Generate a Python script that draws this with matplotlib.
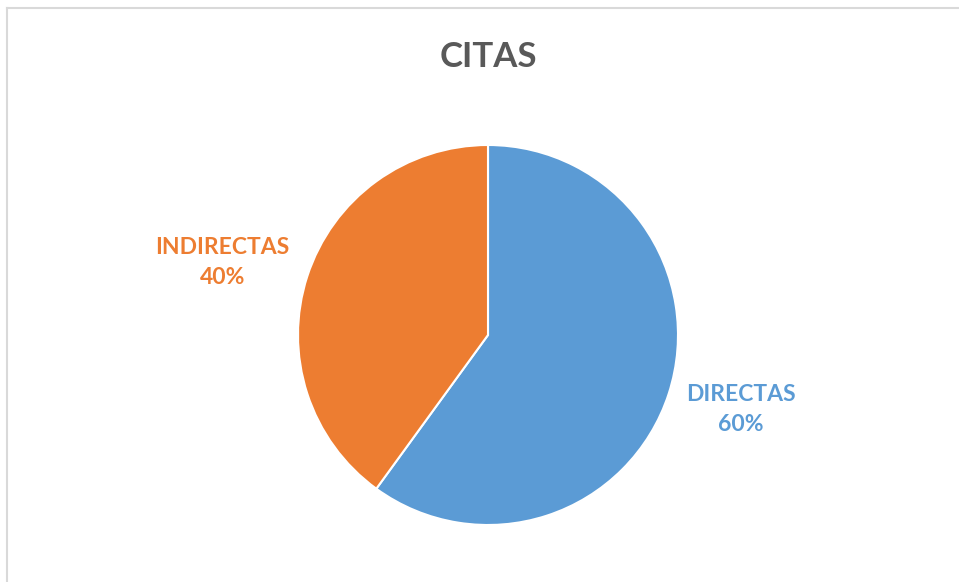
import matplotlib
matplotlib.use("Agg")
import matplotlib.pyplot as plt
from matplotlib.lines import Line2D
from matplotlib.transforms import offset_copy

# Chart data
categories = ["DIRECTAS", "INDIRECTAS"]
values = [60, 40]
colors = ["#5B9BD5", "#ED7D31"]
title = "CITAS"

W, H, DPI = 959, 582, 100
fig = plt.figure(figsize=(W / DPI, H / DPI), dpi=DPI)
fig.patch.set_facecolor("white")

# pie placement in pixels (center and radius)
cx, cy, r = 488, 335, 190
ax = fig.add_axes([(cx - r) / W, (H - cy - r) / H, 2 * r / W, 2 * r / H])

labels = [f"{c}\n{v}%" for c, v in zip(categories, values)]
wedges, texts = ax.pie(
    values,
    labels=labels,
    colors=colors,
    startangle=90,
    counterclock=False,
    labeldistance=1.42,
    wedgeprops=dict(edgecolor="white", linewidth=1.5),
    textprops=dict(fontsize=16.5, fontweight="bold", family="Lato", linespacing=1.5),
)
# small nudges (in pixels) to match the original label placement
nudges = [(-4, 9), (-9, -11)]
for t, col, (dx, dy) in zip(texts, colors, nudges):
    t.set_color(col)
    t.set_ha("center")
    t.set_va("center")
    t.set_transform(offset_copy(ax.transData, fig=fig, x=dx, y=dy, units="dots"))
ax.set_xlim(-1, 1)
ax.set_ylim(-1, 1)
ax.set_aspect("equal")

fig.text(cx / W, 1 - 57 / H, title, ha="center", va="center",
         fontsize=25, fontweight="bold", family="Lato", color="#595959")

# partial chart frame (top and left edges)
frame = "#D9D9D9"
fig.add_artist(Line2D([7 / W, 958 / W], [1 - 8 / H, 1 - 8 / H], color=frame, lw=1.5, transform=fig.transFigure))
fig.add_artist(Line2D([7 / W, 7 / W], [1 - 8 / H, 0], color=frame, lw=1.5, transform=fig.transFigure))

fig.savefig("out.png", dpi=DPI)
